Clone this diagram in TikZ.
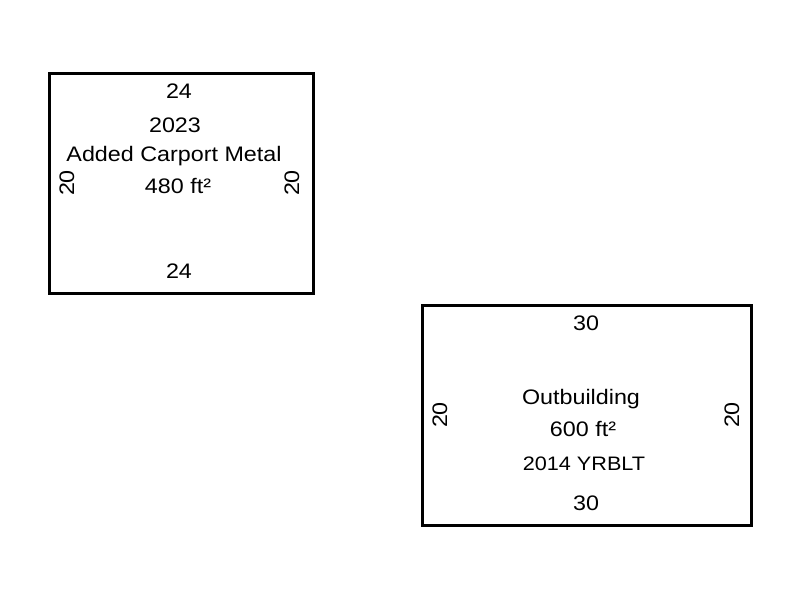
\documentclass[tikz,border=0pt]{standalone}
\usepackage{fontspec}
\setmainfont[FakeStretch=1.11]{Liberation Sans}
\usepackage{tikz}

\begin{document}
\begin{tikzpicture}[x=1pt,y=-1pt,
		lbl/.style={inner sep=0pt,font=\fontsize{21}{24}\selectfont},
		small/.style={inner sep=0pt,font=\fontsize{19.5}{22}\selectfont}]
		\useasboundingbox (0,0) rectangle (800,600);
		\draw[line width=3pt] (49,73) rectangle (313,293); %carport
		\node[lbl] (cTop) at (179,91) {24};
		\node[lbl] (cYear) at (175,125) {2023};
		\node[lbl] (cName) at (174,156) {Added Carport Metal};
		\node[lbl] (cArea) at (178,186) {480 ft²};
		\node[lbl] (cBot) at (179,271) {24};
		\node[lbl,rotate=90] (cLeft) at (67,183) {20};
		\node[lbl,rotate=90] (cRight) at (292,183) {20};
		\draw[line width=3pt] (422,305) rectangle (751,525); %outbuilding
		\node[lbl] (oTop) at (586,323) {30};
		\node[lbl] (oName) at (581,399) {Outbuilding};
		\node[lbl] (oArea) at (583,429) {600 ft²};
		\node[small] (oYear) at (584,464) {2014 YRBLT};
		\node[lbl] (oBot) at (586,503) {30};
		\node[lbl,rotate=90] (oLeft) at (440,415) {20};
		\node[lbl,rotate=90] (oRight) at (732,415) {20};
	\end{tikzpicture}
\end{document}
